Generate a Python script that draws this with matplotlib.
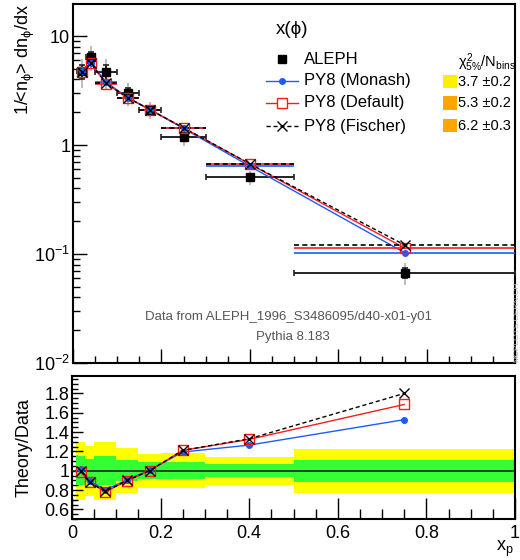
import numpy as np
import matplotlib
matplotlib.use("Agg")
import matplotlib.pyplot as plt
from matplotlib.lines import Line2D
from matplotlib.patches import Rectangle
from matplotlib.ticker import MultipleLocator, FixedLocator, NullFormatter, LogLocator, FixedFormatter

plt.rcParams['font.family'] = ['Liberation Sans', 'DejaVu Sans']
plt.rcParams['mathtext.fontset'] = 'custom'
plt.rcParams['mathtext.rm'] = 'Liberation Sans'
plt.rcParams['mathtext.it'] = 'Liberation Sans'

# ---- data ----
bin_lo = [0.01, 0.03, 0.05, 0.10, 0.15, 0.20, 0.30, 0.50]
bin_hi = [0.03, 0.05, 0.10, 0.15, 0.20, 0.30, 0.50, 1.00]
x_pts = [0.02, 0.04, 0.075, 0.125, 0.175, 0.25, 0.40, 0.75]
aleph = [4.75, 6.4, 4.7, 3.0, 2.1, 1.19, 0.506, 0.0674]
stat_rel = [0.15, 0.12, 0.15, 0.11, 0.088, 0.088, 0.065, 0.115]
tot_rel = [0.30, 0.26, 0.30, 0.235, 0.175, 0.18, 0.145, 0.228]
monash = [4.82, 5.72, 3.76, 2.72, 2.11, 1.42, 0.64, 0.103]
default = [4.68, 5.63, 3.67, 2.69, 2.10, 1.44, 0.67, 0.1136]
fischer = [4.73, 5.63, 3.69, 2.70, 2.10, 1.44, 0.673, 0.1213]
legend_labels = ['ALEPH', 'PY8 (Monash)', 'PY8 (Default)', 'PY8 (Fischer)']
chi2_labels = ['3.7 \u00b10.2', '5.3 \u00b10.2', '6.2 \u00b10.3']
chi2_colors = ['#ffee00', '#ffa500', '#ffa500']
main_yticks = [0.01, 0.1, 1, 10]
main_yticklabels = [r'$10^{-2}$', r'$10^{-1}$', '1', '10']
ratio_yticks = [0.6, 0.8, 1.0, 1.2, 1.4, 1.6, 1.8]
ratio_yticklabels = ['0.6', '0.8', '1', '1.2', '1.4', '1.6', '1.8']
xticks = [0, 0.2, 0.4, 0.6, 0.8, 1.0]
xticklabels = ['0', '0.2', '0.4', '0.6', '0.8', '1']

W, H = 520, 560
fig = plt.figure(figsize=(W / 100, H / 100), dpi=100)

def fx(px):
    return px / W

def fy(py):
    return 1 - py / H

ax = fig.add_axes([fx(73), fy(363), fx(515) - fx(73), fy(4) - fy(363)])
axr = fig.add_axes([fx(72), fy(519), fx(515) - fx(72), fy(376) - fy(519)])

lo = np.array(bin_lo); hi = np.array(bin_hi); x = np.array(x_pts)
d = np.array(aleph); st = np.array(stat_rel); tt = np.array(tot_rel)
blue = '#1a5cff'
red = '#ff1a1a'
styles = [(monash, blue, 'o', '-', blue, 4),
          (default, red, 's', '-', 'none', 7),
          (fischer, 'black', 'x', (0, (3, 2)), 'none', 7)]

# ---- main panel ----
ax.errorbar(x, d, yerr=d * tt, fmt='none', ecolor='#b0b0b0', elinewidth=1.2, zorder=2)
ax.errorbar(x, d, yerr=d * st, xerr=[x - lo, hi - x], fmt='s', color='black', ms=6,
            ecolor='#222222', elinewidth=1.4, capsize=2.5, capthick=1.2, zorder=3)

for vals, col, mk, ls, mfc, ms in styles:
    v = np.array(vals)
    ax.plot(x, v, color=col, ls=ls, lw=1.0, zorder=4)
    ax.hlines(v, lo, hi, colors=col, linestyles=ls, lw=1.2, zorder=4)
    ax.plot(x, v, ls='none', marker=mk, color=col, mfc=mfc, ms=ms, mew=1.0, zorder=5)

ax.set_yscale('log')
ax.set_xlim(0, 1)
ax.set_ylim(0.01, 19.7)
ax.xaxis.set_major_locator(MultipleLocator(0.2))
ax.xaxis.set_minor_locator(MultipleLocator(0.05))
ax.xaxis.set_major_formatter(NullFormatter())
ax.yaxis.set_major_locator(FixedLocator(main_yticks))
ax.yaxis.set_major_formatter(FixedFormatter(main_yticklabels))
ax.yaxis.set_minor_locator(LogLocator(base=10, subs=np.arange(2, 10), numticks=20))
ax.yaxis.set_minor_formatter(NullFormatter())
ax.tick_params(which='both', direction='in', top=False, right=False, labelsize=13)
ax.tick_params(which='major', length=10, width=1.0)
ax.tick_params(which='minor', length=5, width=1.0)
ax.tick_params(axis='y', which='major', pad=2)
for s in ax.spines.values():
    s.set_linewidth(1.5)
ax.set_ylabel(r'1/<n$_{\phi}$> dn$_{\phi}$/dx', fontsize=13, loc='top')
ax.yaxis.set_label_coords(-0.081, 1.0)

ax.text(0.488, 0.127, 'Data from ALEPH_1996_S3486095/d40-x01-y01', transform=ax.transAxes,
        ha='center', va='center', fontsize=9.5, color='#555555')
ax.text(0.497, 0.072, 'Pythia 8.183', transform=ax.transAxes,
        ha='center', va='center', fontsize=9.5, color='#555555')

# ---- legend (figure coords) ----
fig.text(fx(276), fy(29), 'x(\u03d5)', fontsize=13.5, ha='left', va='center')
fig.add_artist(Line2D([fx(282)], [fy(59)], marker='s', color='black', ms=6, ls='none'))
fig.add_artist(Line2D([fx(266), fx(298)], [fy(81), fy(81)], color=blue, lw=1.0))
fig.add_artist(Line2D([fx(282)], [fy(81)], color=blue, marker='o', ms=4, ls='none'))
fig.add_artist(Line2D([fx(266), fx(298)], [fy(103), fy(103)], color=red, lw=1.0))
fig.add_artist(Line2D([fx(282)], [fy(103)], color=red, marker='s', mfc='white', ms=7, ls='none'))
fig.add_artist(Line2D([fx(266), fx(298)], [fy(126), fy(126)], color='black', lw=1.0, ls=(0, (3, 2))))
fig.add_artist(Line2D([fx(282)], [fy(126)], color='black', marker='x', ms=7, ls='none'))
for lab, py in zip(legend_labels, [59, 81, 103, 126]):
    fig.text(fx(304), fy(py), lab, fontsize=12, ha='left', va='center')

fig.text(fx(458), fy(63), r'$\chi^{2}_{5\%}$/N$_{\mathrm{bins}}$', fontsize=10.5, ha='left', va='center')
for lab, colr, py in zip(chi2_labels, chi2_colors, [81.5, 103, 125.5]):
    fig.add_artist(Rectangle((fx(443), fy(py + 6.5)), fx(456.5) - fx(443), fy(py - 6.5) - fy(py + 6.5),
                             facecolor=colr, edgecolor='none', transform=fig.transFigure))
    fig.text(fx(458), fy(py), lab, fontsize=10.5, ha='left', va='center')

fig.text(fx(517), fy(322), 'MCPLOTS.CERN.CH', rotation=90, fontsize=6, color='#bbbbbb',
         ha='center', va='center')

# ---- ratio panel ----
axr.bar(lo, 2 * tt, bottom=1 - tt, width=hi - lo, align='edge', color='#ffff00', lw=0, zorder=1)
axr.bar(lo, 2 * st, bottom=1 - st, width=hi - lo, align='edge', color='#33ff33', lw=0, zorder=2)
axr.axhline(1.0, color='#222222', lw=1.2, zorder=3)
for vals, col, mk, ls, mfc, ms in styles:
    r = np.array(vals) / d
    axr.plot(x, r, color=col, ls=ls, lw=1.0, marker=mk, mfc=mfc, ms=ms, mew=1.0, zorder=4)

axr.set_xlim(0, 1)
axr.set_ylim(0.5, 1.98)
axr.xaxis.set_minor_locator(MultipleLocator(0.05))
axr.yaxis.set_major_locator(FixedLocator(ratio_yticks))
axr.yaxis.set_major_formatter(FixedFormatter(ratio_yticklabels))
axr.yaxis.set_minor_locator(MultipleLocator(0.05))
axr.set_xticks(xticks)
axr.set_xticklabels(xticklabels)
axr.tick_params(which='both', direction='in', top=False, right=False, labelsize=13)
axr.tick_params(axis='x', which='major', length=15, width=1.0, pad=4)
axr.tick_params(axis='x', which='minor', length=7, width=1.0)
axr.tick_params(axis='y', which='major', length=8, width=1.0, pad=2)
axr.tick_params(axis='y', which='minor', length=4, width=1.0)
for s in axr.spines.values():
    s.set_linewidth(1.5)
axr.set_ylabel('Theory/Data', fontsize=13)
axr.yaxis.set_label_coords(-0.088, 0.5)
fig.text(fx(505), fy(549), r'x$_{\mathrm{p}}$', fontsize=13, ha='center', va='center')

fig.savefig('out.png', dpi=100)
